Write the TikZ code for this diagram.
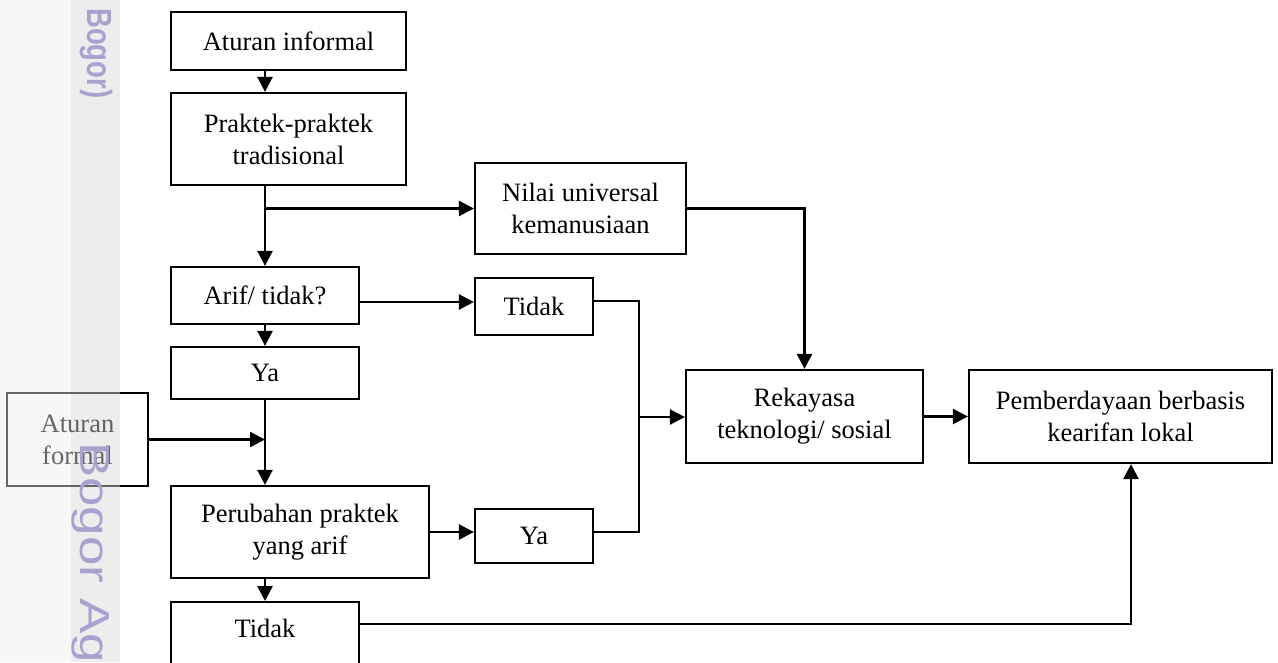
\documentclass[tikz,border=0pt]{standalone}
\usepackage{fontspec}
\setmainfont{Liberation Serif}
\newfontfamily\wmfont{Liberation Sans}
\usetikzlibrary{arrows.meta,calc}
\definecolor{stripA}{RGB}{247,247,247}
\definecolor{stripB}{RGB}{237,237,237}
\definecolor{wm}{RGB}{168,163,206}
\begin{document}
\begin{tikzpicture}[x=1pt,y=-1pt,
  txt/.style={font=\fontsize{26.5}{32}\selectfont, align=center},
  box/.style={draw, line width=2.2pt, inner sep=0pt, txt},
  arr/.style={-{Triangle[length=15pt,width=15pt]}, line width=2.5pt},
  conn/.style={line width=2.5pt}]
\useasboundingbox (0,0) rectangle (1278,662);
\clip (0,0) rectangle (1278,662);
\fill[white] (0,0) rectangle (1278,662);
\fill[stripA] (0,0) rectangle (71,662);
\fill[stripB] (71,0) rectangle (120,662);

% nodes
\node[box, minimum width=235, minimum height=58] (ai) at (288.5,41) {Aturan informal};
\node[box, minimum width=235, minimum height=92] (pt) at (288.5,139) {Praktek-praktek\\tradisional};
\node[box, minimum width=211, minimum height=91] (nu) at (580.5,208.5) {Nilai universal\\kemanusiaan};
\node[box, minimum width=188, minimum height=57] (at) at (265,295.5) {Arif/ tidak?};
\node[box, minimum width=118, minimum height=57] (td1) at (534,306.5) {Tidak};
\node[box, minimum width=188, minimum height=52] (ya1) at (265,373) {Ya};
\node[box, minimum width=141, minimum height=93] (af) at (77.5,439.5) {Aturan\\formal};
\node[box, minimum width=258, minimum height=92] (pr) at (300,532) {Perubahan praktek\\yang arif};
\node[box, minimum width=118, minimum height=54] (ya2) at (534,536) {Ya};
\node[box, minimum width=237, minimum height=93] (rk) at (804.5,416.5) {Rekayasa\\teknologi/ sosial};
\node[box, minimum width=303, minimum height=93] (pb) at (1120.5,416.5) {Pemberdayaan berbasis\\kearifan lokal};
\node[box, minimum width=188, minimum height=130, anchor=north] (td2) at (265,601) {};
\node[txt, inner sep=0pt] (td2t) at (265,628) {Tidak};

% helper coordinates
\coordinate (cx) at (265,0);
\coordinate (jx) at (639,417);

% connectors
\draw[arr] (ai.south -| cx) -- (pt.north -| cx);
\draw[arr] (pt.south -| cx) -- (at.north);
\draw[arr] (cx |- nu.west) -- (nu.west);
\draw[arr] ([yshift=-6.5pt]at.east) -- ([yshift=-6.5pt]at.east -| td1.west);
\draw[arr] (at.south) -- (ya1.north);
\draw[arr] (ya1.south) -- (pr.north -| cx);
\draw[arr] (af.east) -- (cx |- af.east);
\draw[arr] (pr.east) -- (pr.east -| ya2.west);
\draw[arr] (pr.south -| cx) -- (td2.north);
\draw[arr] (nu.east) -| (rk.north);
\draw[conn] ([yshift=5.5pt]td1.east) -| (jx) |- ([yshift=4pt]ya2.east);
\draw[arr] (jx) -- (jx -| rk.west);
\draw[arr] (rk.east) -- (pb.west);
\draw[arr] ([yshift=-23pt]td2.north east) -| ([xshift=10.5pt]pb.south);

% washed-out strip over the left margin
\fill[stripA, opacity=0.42] (0,0) rectangle (71,662);
\fill[stripB, opacity=0.42] (71,0) rectangle (120,662);

% watermark
\node[rotate=-90, anchor=base west, inner sep=0pt, text=wm, font=\wmfont\bfseries\fontsize{35}{35}\selectfont] (wm1) at (87,8) {\scalebox{0.785}[1]{Bogor)}};
\node[rotate=-90, anchor=base west, inner sep=0pt, text=wm, font=\wmfont\fontsize{42}{42}\selectfont] (wm2) at (80,442) {\scalebox{1.26}[1]{Bogor Ag}};
\end{tikzpicture}
\end{document}
